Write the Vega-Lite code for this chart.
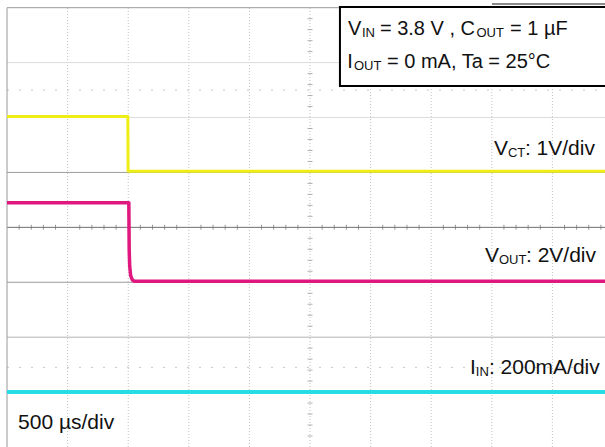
{
  "$schema": "https://vega.github.io/schema/vega-lite/v6.json",
  "width": 605,
  "height": 447,
  "autosize": {"type": "none"},
  "padding": 0,
  "background": "white",
  "config": {"view": {"stroke": null}},
  "datasets": {
    "traces": [
      {"s": "VCT", "t": 0, "v": 6.02},
      {"s": "VCT", "t": 997, "v": 6.02},
      {"s": "VCT", "t": 999, "v": 5.02},
      {"s": "VCT", "t": 4934, "v": 5.02},
      {"s": "VOUT", "t": 0, "v": 4.45},
      {"s": "VOUT", "t": 1005, "v": 4.45},
      {"s": "VOUT", "t": 1008, "v": 3.6},
      {"s": "VOUT", "t": 1012, "v": 3.3},
      {"s": "VOUT", "t": 1020, "v": 3.12},
      {"s": "VOUT", "t": 1035, "v": 3.04},
      {"s": "VOUT", "t": 1050, "v": 3.02},
      {"s": "VOUT", "t": 4934, "v": 3.02},
      {"s": "IIN", "t": 0, "v": 1.0},
      {"s": "IIN", "t": 4934, "v": 1.0}
    ],
    "hgrid": [
      {"v": 8, "t": 0, "t2": 4934, "k": "mid"},
      {"v": 7, "t": 0, "t2": 4934, "k": "light"},
      {"v": 6, "t": 0, "t2": 4934, "k": "light"},
      {"v": 5, "t": 0, "t2": 4934, "k": "mid"},
      {"v": 4, "t": 0, "t2": 4934, "k": "dark"},
      {"v": 3, "t": 0, "t2": 4934, "k": "mid"},
      {"v": 2, "t": 0, "t2": 4934, "k": "mid2"},
      {"v": 1, "t": 0, "t2": 4934, "k": "mid2"}
    ],
    "vgrid": [
      {"t": 500, "v": 0, "v2": 8}, {"t": 1000, "v": 0, "v2": 8}, {"t": 1500, "v": 0, "v2": 8},
      {"t": 2000, "v": 0, "v2": 8}, {"t": 2500, "v": 0, "v2": 8}, {"t": 3000, "v": 0, "v2": 8},
      {"t": 3500, "v": 0, "v2": 8}, {"t": 4000, "v": 0, "v2": 8}, {"t": 4500, "v": 0, "v2": 8}
    ],
    "border": [{"t": 0, "v": 0, "v2": 8}],
    "dots": [{"v": 6.5, "t": 0, "t2": 4934}, {"v": 1.45, "t": 0, "t2": 4934}],
    "hticks": [
      {"t": 100, "v": 4}, {"t": 200, "v": 4}, {"t": 300, "v": 4}, {"t": 400, "v": 4}, {"t": 600, "v": 4}, {"t": 700, "v": 4}, {"t": 800, "v": 4}, {"t": 900, "v": 4},
      {"t": 1100, "v": 4}, {"t": 1200, "v": 4}, {"t": 1300, "v": 4}, {"t": 1400, "v": 4}, {"t": 1600, "v": 4}, {"t": 1700, "v": 4}, {"t": 1800, "v": 4}, {"t": 1900, "v": 4},
      {"t": 2100, "v": 4}, {"t": 2200, "v": 4}, {"t": 2300, "v": 4}, {"t": 2400, "v": 4}, {"t": 2600, "v": 4}, {"t": 2700, "v": 4}, {"t": 2800, "v": 4}, {"t": 2900, "v": 4},
      {"t": 3100, "v": 4}, {"t": 3200, "v": 4}, {"t": 3300, "v": 4}, {"t": 3400, "v": 4}, {"t": 3600, "v": 4}, {"t": 3700, "v": 4}, {"t": 3800, "v": 4}, {"t": 3900, "v": 4},
      {"t": 4100, "v": 4}, {"t": 4200, "v": 4}, {"t": 4300, "v": 4}, {"t": 4400, "v": 4}, {"t": 4600, "v": 4}, {"t": 4700, "v": 4}, {"t": 4800, "v": 4}, {"t": 4900, "v": 4}
    ],
    "vticks": [
      {"t": 2500, "v": 0.2}, {"t": 2500, "v": 0.4}, {"t": 2500, "v": 0.6}, {"t": 2500, "v": 0.8},
      {"t": 2500, "v": 1.2}, {"t": 2500, "v": 1.4}, {"t": 2500, "v": 1.6}, {"t": 2500, "v": 1.8},
      {"t": 2500, "v": 2.2}, {"t": 2500, "v": 2.4}, {"t": 2500, "v": 2.6}, {"t": 2500, "v": 2.8},
      {"t": 2500, "v": 3.2}, {"t": 2500, "v": 3.4}, {"t": 2500, "v": 3.6}, {"t": 2500, "v": 3.8},
      {"t": 2500, "v": 4.2}, {"t": 2500, "v": 4.4}, {"t": 2500, "v": 4.6}, {"t": 2500, "v": 4.8},
      {"t": 2500, "v": 5.2}, {"t": 2500, "v": 5.4}, {"t": 2500, "v": 5.6}, {"t": 2500, "v": 5.8},
      {"t": 2500, "v": 6.2}, {"t": 2500, "v": 6.4}, {"t": 2500, "v": 6.6}, {"t": 2500, "v": 6.8},
      {"t": 2500, "v": 7.2}, {"t": 2500, "v": 7.4}, {"t": 2500, "v": 7.6}, {"t": 2500, "v": 7.8}
    ],
    "box": [{"t": 2747, "t2": 5200, "v": 8.013, "v2": 6.574}],
    "frame": [{"t": 4001, "t2": 4934, "v": 8.067}],
    "labels": [
      {"txt": "V", "t": 2813, "v": 7.5025, "r": "box"},
      {"txt": "IN", "t": 2929, "v": 7.466, "r": "sub"},
      {"txt": "= 3.8 V , C", "t": 3077, "v": 7.5025, "r": "box"},
      {"txt": "OUT", "t": 3873, "v": 7.466, "r": "sub"},
      {"txt": "= 1 µF", "t": 4150, "v": 7.5025, "r": "box"},
      {"txt": "I", "t": 2808, "v": 6.901, "r": "box"},
      {"txt": "OUT", "t": 2863, "v": 6.865, "r": "sub"},
      {"txt": "= 0 mA, Ta = 25°C", "t": 3135, "v": 6.901, "r": "box"},
      {"txt": "V", "t": 4018, "v": 5.317, "r": "lab"},
      {"txt": "CT", "t": 4133, "v": 5.28, "r": "sub"},
      {"txt": ": 1V/div", "t": 4273, "v": 5.317, "r": "lab"},
      {"txt": "V", "t": 3943, "v": 3.368, "r": "lab"},
      {"txt": "OUT", "t": 4059, "v": 3.331, "r": "sub"},
      {"txt": ": 2V/div", "t": 4282, "v": 3.368, "r": "lab"},
      {"txt": "I", "t": 3820, "v": 1.328, "r": "lab"},
      {"txt": "IN", "t": 3868, "v": 1.291, "r": "sub"},
      {"txt": ": 200mA/div", "t": 3976, "v": 1.328, "r": "lab"},
      {"txt": "500 µs/div", "t": 91, "v": 0.326, "r": "lab"}
    ]
  },
  "layer": [
    {
      "data": {"name": "vgrid"},
      "mark": {"type": "rule", "color": "#c2c2c2", "strokeWidth": 1, "strokeDash": [1, 2]},
      "encoding": {
        "x": {"field": "t", "type": "quantitative", "scale": {"domain": [-58, 4934], "nice": false, "zero": false}, "axis": null},
        "y": {"field": "v", "type": "quantitative", "scale": {"domain": [0, 8.14], "nice": false, "zero": false}, "axis": null},
        "y2": {"field": "v2"}
      }
    },
    {
      "data": {"name": "dots"},
      "mark": {"type": "rule", "color": "#c4c4c4", "strokeWidth": 1, "strokeDash": [2, 10]},
      "encoding": {
        "x": {"field": "t", "type": "quantitative", "scale": {"domain": [-58, 4934], "nice": false, "zero": false}, "axis": null},
        "x2": {"field": "t2"},
        "y": {"field": "v", "type": "quantitative", "scale": {"domain": [0, 8.14], "nice": false, "zero": false}, "axis": null}
      }
    },
    {
      "data": {"name": "hgrid"},
      "mark": {"type": "rule", "strokeWidth": 1},
      "encoding": {
        "x": {"field": "t", "type": "quantitative", "scale": {"domain": [-58, 4934], "nice": false, "zero": false}, "axis": null},
        "x2": {"field": "t2"},
        "y": {"field": "v", "type": "quantitative", "scale": {"domain": [0, 8.14], "nice": false, "zero": false}, "axis": null},
        "color": {"field": "k", "type": "nominal", "scale": {"domain": ["light", "mid", "dark", "mid2"], "range": ["#dcdcdc", "#9a9a9a", "#707070", "#b4b4b4"]}, "legend": null}
      }
    },
    {
      "data": {"name": "border"},
      "mark": {"type": "rule", "color": "#999999", "strokeWidth": 1},
      "encoding": {
        "x": {"field": "t", "type": "quantitative", "scale": {"domain": [-58, 4934], "nice": false, "zero": false}, "axis": null},
        "y": {"field": "v", "type": "quantitative", "scale": {"domain": [0, 8.14], "nice": false, "zero": false}, "axis": null},
        "y2": {"field": "v2"}
      }
    },
    {
      "data": {"name": "hticks"},
      "mark": {"type": "tick", "orient": "vertical", "size": 5, "thickness": 1, "color": "#707070"},
      "encoding": {
        "x": {"field": "t", "type": "quantitative", "scale": {"domain": [-58, 4934], "nice": false, "zero": false}, "axis": null},
        "y": {"field": "v", "type": "quantitative", "scale": {"domain": [0, 8.14], "nice": false, "zero": false}, "axis": null}
      }
    },
    {
      "data": {"name": "vticks"},
      "mark": {"type": "tick", "orient": "horizontal", "size": 5, "thickness": 1, "color": "#909090"},
      "encoding": {
        "x": {"field": "t", "type": "quantitative", "scale": {"domain": [-58, 4934], "nice": false, "zero": false}, "axis": null},
        "y": {"field": "v", "type": "quantitative", "scale": {"domain": [0, 8.14], "nice": false, "zero": false}, "axis": null}
      }
    },
    {
      "data": {"name": "traces"},
      "mark": {"type": "line", "clip": true, "strokeJoin": "round"},
      "encoding": {
        "x": {"field": "t", "type": "quantitative", "scale": {"domain": [-58, 4934], "nice": false, "zero": false}, "axis": null},
        "y": {"field": "v", "type": "quantitative", "scale": {"domain": [0, 8.14], "nice": false, "zero": false}, "axis": null},
        "color": {"field": "s", "type": "nominal", "scale": {"domain": ["VCT", "VOUT", "IIN"], "range": ["#eeee14", "#e0177f", "#26dde6"]}, "legend": null},
        "strokeWidth": {"field": "s", "type": "nominal", "scale": {"domain": ["VCT", "VOUT", "IIN"], "range": [3, 4, 5]}, "legend": null}
      }
    },
    {
      "data": {"name": "box"},
      "mark": {"type": "rect", "fill": "white", "stroke": "black", "strokeWidth": 2, "clip": true},
      "encoding": {
        "x": {"field": "t", "type": "quantitative", "scale": {"domain": [-58, 4934], "nice": false, "zero": false}, "axis": null},
        "x2": {"field": "t2"},
        "y": {"field": "v", "type": "quantitative", "scale": {"domain": [0, 8.14], "nice": false, "zero": false}, "axis": null},
        "y2": {"field": "v2"}
      }
    },
    {
      "data": {"name": "frame"},
      "mark": {"type": "rule", "color": "#8a8a8a", "strokeWidth": 2},
      "encoding": {
        "x": {"field": "t", "type": "quantitative", "scale": {"domain": [-58, 4934], "nice": false, "zero": false}, "axis": null},
        "x2": {"field": "t2"},
        "y": {"field": "v", "type": "quantitative", "scale": {"domain": [0, 8.14], "nice": false, "zero": false}, "axis": null}
      }
    },
    {
      "data": {"name": "labels"},
      "transform": [{"filter": "datum.r === 'box'"}],
      "mark": {"type": "text", "align": "left", "baseline": "alphabetic", "font": "Liberation Sans", "fontSize": 20, "color": "#111111"},
      "encoding": {
        "x": {"field": "t", "type": "quantitative", "scale": {"domain": [-58, 4934], "nice": false, "zero": false}, "axis": null},
        "y": {"field": "v", "type": "quantitative", "scale": {"domain": [0, 8.14], "nice": false, "zero": false}, "axis": null},
        "text": {"field": "txt"}
      }
    },
    {
      "data": {"name": "labels"},
      "transform": [{"filter": "datum.r === 'lab'"}],
      "mark": {"type": "text", "align": "left", "baseline": "alphabetic", "font": "Liberation Sans", "fontSize": 21, "color": "#111111"},
      "encoding": {
        "x": {"field": "t", "type": "quantitative", "scale": {"domain": [-58, 4934], "nice": false, "zero": false}, "axis": null},
        "y": {"field": "v", "type": "quantitative", "scale": {"domain": [0, 8.14], "nice": false, "zero": false}, "axis": null},
        "text": {"field": "txt"}
      }
    },
    {
      "data": {"name": "labels"},
      "transform": [{"filter": "datum.r === 'sub'"}],
      "mark": {"type": "text", "align": "left", "baseline": "alphabetic", "font": "Liberation Sans", "fontSize": 13, "color": "#111111"},
      "encoding": {
        "x": {"field": "t", "type": "quantitative", "scale": {"domain": [-58, 4934], "nice": false, "zero": false}, "axis": null},
        "y": {"field": "v", "type": "quantitative", "scale": {"domain": [0, 8.14], "nice": false, "zero": false}, "axis": null},
        "text": {"field": "txt"}
      }
    }
  ],
  "resolve": {"scale": {"color": "independent", "strokeWidth": "independent"}}
}
